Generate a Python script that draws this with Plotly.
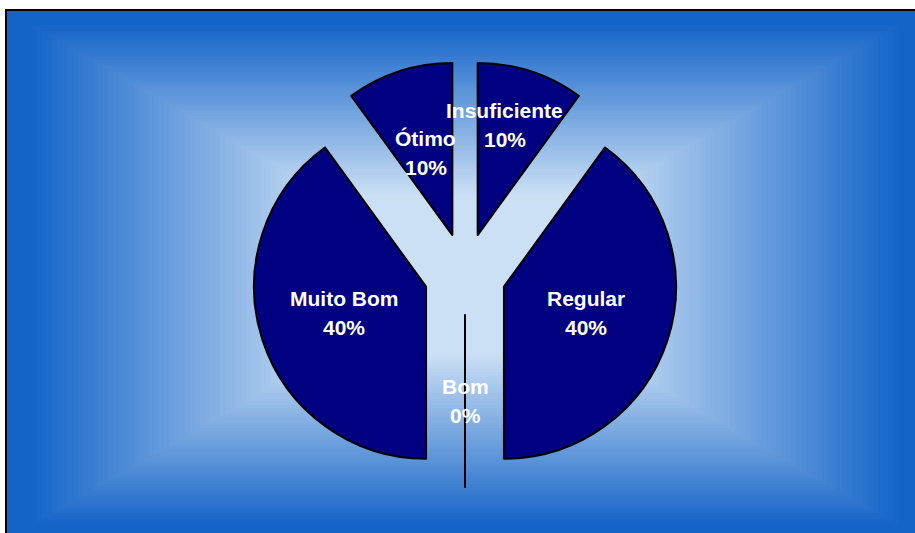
import math
import plotly.graph_objects as go

# data
categories = ["Insuficiente", "Regular", "Bom", "Muito Bom", "Ótimo"]
percentages = [10, 40, 0, 40, 10]

W, H = 915, 533
CX, CY = 465, 274          # pie centre, px
RY = 213                   # half of pie box height, px
PULL = 0.238
R = RY / (1 + PULL)

NAVY = "#000080"
EDGE_RGB = (20, 100, 200)
CENTER_RGB = (204, 224, 245)


def px(x):
    return x / W


def py(y):
    return 1 - y / H


fig = go.Figure()

fig.add_trace(go.Pie(
    labels=categories,
    values=percentages,
    sort=False,
    direction="clockwise",
    rotation=0,
    pull=[PULL] * len(categories),
    marker=dict(colors=[NAVY] * len(categories), line=dict(color="black", width=2)),
    textinfo="none",
    hoverinfo="label+percent",
    showlegend=False,
    domain=dict(x=[px(CX - RY), px(CX + RY)], y=[py(CY + RY), py(CY - RY)]),
))

# rectangular "from centre" gradient background
shapes = []
hw, hh = 459, 265
gcx, gcy = 465, 275
steps = 90
for k in range(steps):
    t = k / steps
    s = 1 - t
    f = min(1.0, max(0.0, (t - 0.05) / 0.65))
    c = tuple(int(round(e + (m - e) * f)) for e, m in zip(EDGE_RGB, CENTER_RGB))
    shapes.append(dict(
        type="rect", xref="paper", yref="paper", layer="below",
        x0=px(gcx - hw * s), x1=px(gcx + hw * s),
        y0=py(gcy + hh * s), y1=py(gcy - hh * s),
        fillcolor="rgb(%d,%d,%d)" % c, line=dict(width=0),
    ))
shapes.append(dict(
    type="rect", xref="paper", yref="paper", layer="above",
    x0=px(6), x1=px(924), y0=py(540), y1=py(10),
    line=dict(color="black", width=2), fillcolor="rgba(0,0,0,0)",
))

# labels at slice mid-angles (Insuficiente is nudged, as in the original)
label_r = {"Insuficiente": 0.64}
label_nudge = {"Insuficiente": (-7, -5)}
annotations = []
total = sum(percentages)
cum = 0
for name, v in zip(categories, percentages):
    mid = math.radians((cum + v / 2) / total * 360)
    cum += v
    dx, dy = math.sin(mid), -math.cos(mid)
    dist = PULL * R + label_r.get(name, 0.5) * R
    nx, ny = label_nudge.get(name, (0, 0))
    lx, ly = CX + dist * dx + nx, CY + dist * dy + ny
    for txt, shift in ((name, 14.5), ("%d%%" % round(v / total * 100), -14.5)):
        annotations.append(dict(
            x=px(lx), y=py(ly), xref="paper", yref="paper",
            xanchor="center", yanchor="middle",
            text="<b>%s</b>" % txt, showarrow=False, yshift=shift,
            font=dict(family="Liberation Sans, Arial", size=21, color="white"),
        ))

fig.update_layout(
    width=W, height=H,
    margin=dict(l=0, r=0, t=0, b=0),
    paper_bgcolor="white",
    plot_bgcolor="white",
    shapes=shapes,
    annotations=annotations,
)

fig.write_html("out.html", config={"displayModeBar": False},
               post_script="document.body.style.margin='0';")
